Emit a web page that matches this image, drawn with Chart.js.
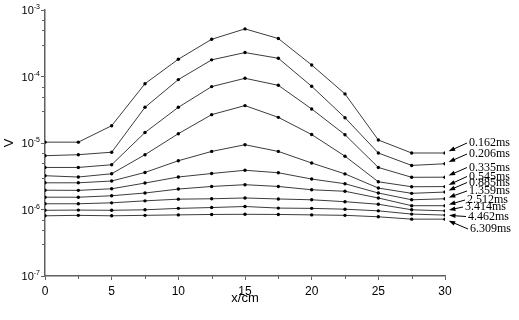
<!DOCTYPE html>
<html><head><meta charset="utf-8">
<script src="https://cdn.jsdelivr.net/npm/chart.js@4/dist/chart.umd.min.js"></script>
<style>html,body{margin:0;padding:0;background:#fff;}#wrap{width:519px;height:320px;}</style>
</head><body><div id="wrap"><canvas id="c" width="519" height="320"></canvas></div>
<script>
// ---- data ----
const xCm = [0, 2.5, 5, 7.5, 10, 12.5, 15, 17.5, 20, 22.5, 25, 27.5, 30];
const seriesLabels = ['0.162ms','0.206ms','0.335ms','0.545ms','0.885ms','1.359ms','2.512ms','3.414ms','4.462ms','6.309ms'];
const v0162 = [1.03e-5,1.03e-5,1.82e-5,7.8e-5,1.82e-4,3.63e-4,5.2e-4,3.72e-4,1.49e-4,5.47e-5,1.11e-5,7.07e-6,7.07e-6];
const v0206 = [6.44e-6,6.67e-6,7.27e-6,3.44e-5,8.98e-5,1.78e-4,2.29e-4,1.88e-4,7.12e-5,2.40e-5,7.07e-6,4.60e-6,4.88e-6];
const v0335 = [4.29e-6,4.29e-6,4.71e-6,1.44e-5,3.44e-5,7.05e-5,9.40e-5,7.37e-5,3.25e-5,1.33e-5,4.29e-6,3.05e-6,3.06e-6];
const v0545 = [3.22e-6,3.08e-6,3.45e-6,6.67e-6,1.38e-5,2.67e-5,3.65e-5,2.43e-5,1.34e-5,6.33e-6,2.61e-6,2.20e-6,2.21e-6];
const v0885 = [2.52e-6,2.52e-6,2.68e-6,3.61e-6,5.41e-6,7.47e-6,9.42e-6,7.47e-6,5.00e-6,3.43e-6,2.10e-6,1.75e-6,1.83e-6];
const v1359 = [1.95e-6,1.94e-6,2.05e-6,2.50e-6,3.08e-6,3.48e-6,3.89e-6,3.57e-6,2.87e-6,2.44e-6,1.77e-6,1.40e-6,1.45e-6];
const v2512 = [1.53e-6,1.53e-6,1.61e-6,1.77e-6,2.03e-6,2.22e-6,2.36e-6,2.22e-6,1.98e-6,1.88e-6,1.49e-6,1.14e-6,1.14e-6];
const v3414 = [1.22e-6,1.22e-6,1.26e-6,1.35e-6,1.43e-6,1.45e-6,1.49e-6,1.44e-6,1.40e-6,1.31e-6,1.20e-6,9.9e-7,9.55e-7];
const v4462 = [9.73e-7,9.8e-7,9.73e-7,9.9e-7,1.04e-6,1.07e-6,1.11e-6,1.05e-6,1.04e-6,1.01e-6,9.55e-7,8.53e-7,8.24e-7];
const v6309 = [8.04e-7,8.17e-7,8.04e-7,8.17e-7,8.3e-7,8.42e-7,8.47e-7,8.42e-7,8.3e-7,8.17e-7,7.77e-7,7.16e-7,7.16e-7];
const allSeries = [v0162,v0206,v0335,v0545,v0885,v1359,v2512,v3414,v4462,v6309];
const yTickValues = [1e-7, 1e-6, 1e-5, 1e-4, 1e-3];
const yTickExponents = ['-7','-6','-5','-4','-3'];
const yMinorMultipliers = [3, 5, 7];

// ---- layout (pixels, not data) ----
const labelX = [469,469,469,469,469,469,467,465,468,470];
const labelY = [143,154,167.5,176.5,182.5,191,200,207,216.5,229];

const AXIS = '#606060';
const annot = {
  id: 'annot',
  afterDraw(chart) {
    const ctx = chart.ctx, xs = chart.scales.x, ys = chart.scales.y, a = chart.chartArea;
    ctx.save();
    ctx.strokeStyle = AXIS; ctx.lineWidth = 1;
    // minor y ticks
    for (let e = -7; e < -3; e++) {
      for (const m of yMinorMultipliers) {
        const y = Math.round(ys.getPixelForValue(m * Math.pow(10, e))) + 0.5;
        ctx.beginPath(); ctx.moveTo(a.left - 3, y); ctx.lineTo(a.left, y); ctx.stroke();
      }
    }
    // minor x ticks
    for (let v = 2.5; v < 30; v += 5) {
      const x = Math.round(xs.getPixelForValue(v)) + 0.5;
      ctx.beginPath(); ctx.moveTo(x, a.bottom); ctx.lineTo(x, a.bottom + 3); ctx.stroke();
    }
    // y tick labels with superscripts
    ctx.fillStyle = '#000';
    ctx.textBaseline = 'alphabetic';
    yTickValues.forEach((v, i) => {
      const y = ys.getPixelForValue(v);
      ctx.font = '7px "Liberation Sans", Arial, sans-serif';
      const ew = ctx.measureText(yTickExponents[i]).width;
      ctx.textAlign = 'left';
      const right = a.left - 5;
      ctx.fillText(yTickExponents[i], right - ew, y - 1);
      ctx.font = '11px "Liberation Sans", Arial, sans-serif';
      ctx.textAlign = 'right';
      ctx.fillText('10', right - ew, y + 4);
    });
    // axis titles
    ctx.font = '13px "Liberation Sans", Arial, sans-serif';
    ctx.textAlign = 'center'; ctx.textBaseline = 'middle';
    ctx.fillText('x/cm', (a.left + a.right) / 2, 298);
    ctx.save();
    ctx.translate(9, (a.top + a.bottom) / 2);
    ctx.rotate(-Math.PI / 2);
    ctx.fillText('V', 0, 0);
    ctx.restore();
    // series labels with arrows
    ctx.font = '12px "Liberation Serif", "Times New Roman", serif';
    ctx.textAlign = 'left'; ctx.textBaseline = 'middle';
    ctx.strokeStyle = '#000'; ctx.fillStyle = '#000'; ctx.lineWidth = 1;
    seriesLabels.forEach((t, i) => {
      const meta = chart.getDatasetMeta(i);
      const pt = meta.data[meta.data.length - 1];
      const tx = labelX[i] - 2, ty = labelY[i];
      let dx = tx - pt.x, dy = ty - pt.y;
      const len = Math.hypot(dx, dy); dx /= len; dy /= len;
      const tipX = pt.x + dx * 4, tipY = pt.y + dy * 4;
      ctx.beginPath(); ctx.moveTo(tx, ty); ctx.lineTo(tipX + dx * 5, tipY + dy * 5); ctx.stroke();
      const bx = tipX + dx * 6.5, by = tipY + dy * 6.5;
      ctx.beginPath();
      ctx.moveTo(tipX, tipY);
      ctx.lineTo(bx - dy * 2.3, by + dx * 2.3);
      ctx.lineTo(bx + dy * 2.3, by - dx * 2.3);
      ctx.closePath(); ctx.fill();
      ctx.fillText(t, labelX[i], ty);
    });
    ctx.restore();
  }
};

new Chart(document.getElementById('c'), {
  type: 'line',
  data: {
    datasets: allSeries.map((arr, i) => ({
      label: seriesLabels[i],
      data: xCm.map((x, j) => ({ x: x, y: arr[j] })),
      borderColor: '#3c3c3c', borderWidth: 1,
      pointRadius: 1.7, pointBackgroundColor: '#000', pointBorderWidth: 0,
      tension: 0, fill: false
    }))
  },
  options: {
    responsive: false, devicePixelRatio: 1, animation: false,
    layout: { padding: { left: 0, right: 74, top: 10, bottom: 0 } },
    plugins: { legend: { display: false }, tooltip: { enabled: false } },
    scales: {
      x: {
        type: 'linear', min: 0, max: 30,
        ticks: { stepSize: 5, color: '#000', padding: 4, font: { family: '"Liberation Sans", Arial, sans-serif', size: 12 } },
        grid: { drawOnChartArea: false, drawTicks: true, tickLength: 4, color: AXIS, lineWidth: 1 },
        border: { color: AXIS, width: 1.5 },
        afterFit(s) { s.height = 44; }
      },
      y: {
        type: 'logarithmic', min: 1e-7, max: 1e-3,
        afterBuildTicks(s) { s.ticks = yTickValues.map(v => ({ value: v, major: true })); },
        ticks: { display: false },
        grid: { drawOnChartArea: false, drawTicks: true, tickLength: 4, color: AXIS, lineWidth: 1 },
        border: { color: AXIS, width: 1.5 },
        afterFit(s) { s.width = 45; }
      }
    }
  },
  plugins: [annot]
});
</script>
</body></html>
